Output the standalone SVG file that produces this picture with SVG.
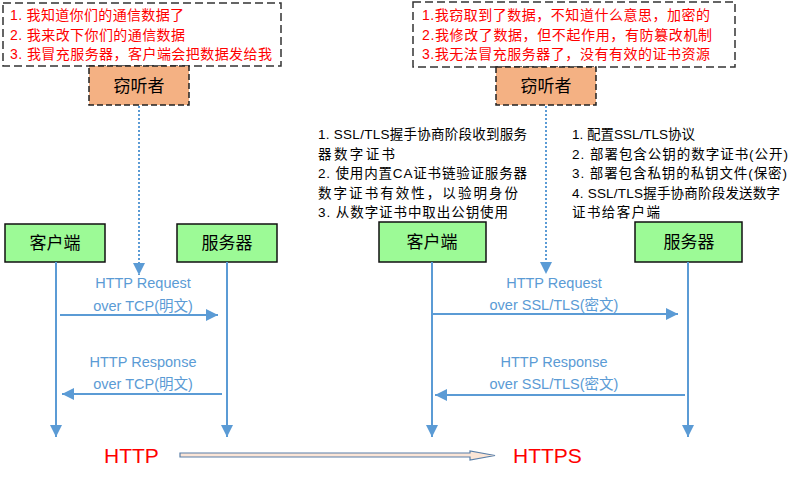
<svg xmlns="http://www.w3.org/2000/svg" width="801" height="477" viewBox="0 0 801 477">
<defs>
<style>
.note{fill:#fff;stroke:#333;stroke-width:1.5;stroke-dasharray:8 4}
.eve{fill:#f4b183;stroke:#222;stroke-width:1.5;stroke-dasharray:6 3}
.peer{fill:#9cfa96;stroke:#111;stroke-width:1.5}
.red{font-family:"Liberation Sans","Noto Sans CJK SC",sans-serif;font-size:14px;fill:#ff0000}
.blk{font-family:"Liberation Sans","Noto Sans CJK SC",sans-serif;font-size:13.5px;fill:#000}
.lbl{font-family:"Liberation Sans","Noto Sans CJK SC",sans-serif;font-size:17px;fill:#000;text-anchor:middle}
.msg{font-family:"Liberation Sans","Noto Sans CJK SC",sans-serif;font-size:14.5px;fill:#5b9bd5;text-anchor:middle}
.big{font-family:"Liberation Sans","Noto Sans CJK SC",sans-serif;font-size:21px;fill:#ff0000}
.life{stroke:#5b9bd5;stroke-width:2;fill:none}
.dot{stroke:#5b9bd5;stroke-width:2;stroke-dasharray:2 2;fill:none}
</style>
<marker id="ah" viewBox="0 0 10 10" refX="10" refY="5" markerWidth="12" markerHeight="12" markerUnits="userSpaceOnUse" orient="auto">
<path d="M0,0 L10,5 L0,10 Z" fill="#5b9bd5"/>
</marker>
</defs>

<g id="note-left">
<rect class="note" x="3" y="3" width="278" height="63"/>
<text class="red" x="10" y="20" textLength="174" lengthAdjust="spacing">1. 我知道你们的通信数据了</text>
<text class="red" x="10" y="40" textLength="175" lengthAdjust="spacing">2. 我来改下你们的通信数据</text>
<text class="red" x="10" y="59" textLength="262" lengthAdjust="spacing">3. 我冒充服务器，客户端会把数据发给我</text>
</g>
<g id="eve-left">
<rect class="eve" x="89" y="66" width="100" height="39"/>
<text class="lbl" x="139" y="92">窃听者</text>
</g>

<g id="note-right">
<rect class="note" x="413" y="2" width="322" height="65"/>
<text class="red" x="422" y="20" textLength="288" lengthAdjust="spacing">1.我窃取到了数据，不知道什么意思，加密的</text>
<text class="red" x="422" y="40" textLength="290" lengthAdjust="spacing">2.我修改了数据，但不起作用，有防篡改机制</text>
<text class="red" x="422" y="59" textLength="288" lengthAdjust="spacing">3.我无法冒充服务器了，没有有效的证书资源</text>
</g>
<g id="eve-right">
<rect class="eve" x="496" y="67" width="100" height="38"/>
<text class="lbl" x="546" y="92">窃听者</text>
</g>

<g id="client-info">
<text class="blk" x="318" y="139" textLength="209" lengthAdjust="spacing">1. SSL/TLS握手协商阶段收到服务</text>
<text class="blk" x="318" y="159" textLength="77" lengthAdjust="spacing">器数字证书</text>
<text class="blk" x="318" y="178" textLength="209" lengthAdjust="spacing">2. 使用内置CA证书链验证服务器</text>
<text class="blk" x="318" y="198" textLength="200" lengthAdjust="spacing">数字证书有效性，以验明身份</text>
<text class="blk" x="318" y="217" textLength="190" lengthAdjust="spacing">3. 从数字证书中取出公钥使用</text>
</g>
<g id="server-info">
<text class="blk" x="572" y="139">1. 配置SSL/TLS协议</text>
<text class="blk" x="572" y="159" textLength="216" lengthAdjust="spacing">2. 部署包含公钥的数字证书(公开)</text>
<text class="blk" x="572" y="178" textLength="215" lengthAdjust="spacing">3. 部署包含私钥的私钥文件(保密)</text>
<text class="blk" x="572" y="198" textLength="208" lengthAdjust="spacing">4. SSL/TLS握手协商阶段发送数字</text>
<text class="blk" x="572" y="217" textLength="88" lengthAdjust="spacing">证书给客户端</text>
</g>

<g id="client-http">
<rect class="peer" x="5" y="224" width="100" height="38"/>
<text class="lbl" x="55" y="249">客户端</text>
</g>
<g id="server-http">
<rect class="peer" x="177" y="224" width="100" height="38"/>
<text class="lbl" x="227" y="249">服务器</text>
</g>
<g id="client-https">
<rect class="peer" x="379" y="222" width="107" height="40"/>
<text class="lbl" x="432" y="248">客户端</text>
</g>
<g id="server-https">
<rect class="peer" x="635" y="222" width="107" height="40"/>
<text class="lbl" x="689" y="248">服务器</text>
</g>

<g id="connectors">
<line class="dot" x1="139" y1="106" x2="139" y2="275" marker-end="url(#ah)"/>
<line class="dot" x1="546" y1="106" x2="546" y2="274" marker-end="url(#ah)"/>
<line class="life" x1="56" y1="262" x2="56" y2="437" marker-end="url(#ah)"/>
<line class="life" x1="227" y1="262" x2="227" y2="437" marker-end="url(#ah)"/>
<line class="life" x1="432" y1="262" x2="432" y2="437" marker-end="url(#ah)"/>
<line class="life" x1="688" y1="262" x2="688" y2="437" marker-end="url(#ah)"/>
<line class="life" x1="60" y1="315" x2="218" y2="315" marker-end="url(#ah)"/>
<line class="life" x1="222" y1="394" x2="62" y2="394" marker-end="url(#ah)"/>
<line class="life" x1="432" y1="314" x2="678" y2="314" marker-end="url(#ah)"/>
<line class="life" x1="685" y1="395" x2="435" y2="395" marker-end="url(#ah)"/>
<path d="M180,453 L470,453 L470,451 L495,455.5 L470,460 L470,457 L180,457 Z" fill="#fbe5d6" stroke="#5a7fa8" stroke-width="1.2"/>
</g>

<g id="labels">
<text class="msg" x="143" y="288">HTTP Request</text>
<text class="msg" x="143" y="311">over TCP(明文)</text>
<text class="msg" x="143" y="367">HTTP Response</text>
<text class="msg" x="143" y="389">over TCP(明文)</text>
<text class="msg" x="554" y="288">HTTP Request</text>
<text class="msg" x="554" y="310">over SSL/TLS(密文)</text>
<text class="msg" x="554" y="367">HTTP Response</text>
<text class="msg" x="554" y="389">over SSL/TLS(密文)</text>
<text class="big" x="104" y="463">HTTP</text>
<text class="big" x="513" y="463">HTTPS</text>
</g>
</svg>
